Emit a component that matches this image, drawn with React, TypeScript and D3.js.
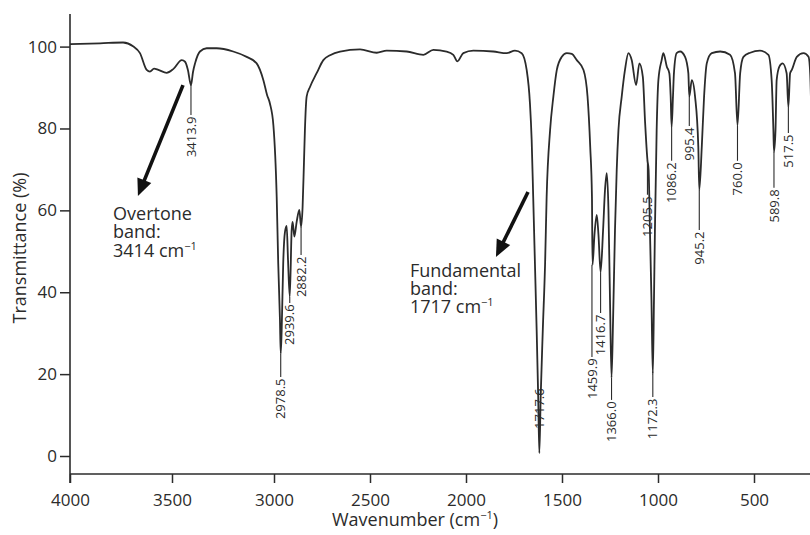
import * as d3 from "d3";
import { useEffect, useRef } from "react";

const chartWidth = 810;
const chartHeight = 535;
const fontFamily = "'Open Sans', 'Noto Sans', sans-serif";
const ink = "#2b2b2b";

// spectrum (wavenumber on the printed axis, % transmittance)
const wavenumber = [
  4000, 3853, 3740, 3691, 3657, 3624, 3608, 3588, 3567, 3526, 3494, 3452, 3436,
  3422, 3407, 3397, 3387, 3363, 3330, 3281, 3200, 3134, 3085, 3052, 3034, 3020,
  3003, 2986, 2978, 2969, 2965, 2960, 2952, 2943, 2934, 2927, 2918, 2908, 2903,
  2894, 2882, 2868, 2859, 2851, 2844, 2839, 2830, 2812, 2778, 2743, 2708, 2656,
  2552, 2465, 2413, 2309, 2222, 2170, 2101, 2066, 2045, 2014, 1962, 1858, 1788,
  1745, 1710, 1684, 1667, 1658, 1650, 1641, 1632, 1624, 1618, 1611, 1600, 1588,
  1580, 1562, 1545, 1527, 1501, 1475, 1449, 1423, 1388, 1367, 1353, 1344, 1341,
  1331, 1319, 1310, 1299, 1286, 1276, 1267, 1258, 1250, 1242, 1234, 1224, 1215,
  1206, 1189, 1172, 1154, 1137, 1114, 1097, 1079, 1067, 1055, 1049, 1042, 1034,
  1027, 1021, 1016, 1007, 998, 981, 972, 954, 941, 934, 929, 922, 917, 903, 885,
  859, 842, 837, 824, 807, 790, 785, 772, 760, 746, 720, 676, 625, 599, 586, 572,
  555, 520, 469, 425, 408, 399, 396, 388, 382, 368, 351, 330, 321, 312, 303, 277,
  242, 216, 207, 200,
];
const transmittance = [
  100.6, 100.8, 101.0, 100.1, 98.4, 94.3, 93.9, 94.6, 94.3, 93.6, 94.5, 96.7, 96.3,
  94.3, 90.6, 93.8, 95.9, 98.8, 99.6, 99.6, 98.8, 97.5, 95.9, 91.8, 88.2, 86.1,
  80.8, 63.3, 47.1, 33.2, 25.0, 30.8, 47.1, 54.7, 56.2, 47.9, 38.9, 55.2, 57.2,
  53.6, 57.2, 60.1, 56.0, 60.9, 71.6, 79.6, 87.8, 90.2, 93.5, 96.7, 97.9, 98.8,
  99.3, 98.5, 99.0, 98.8, 98.0, 99.2, 98.8, 98.0, 96.4, 98.4, 99.0, 98.8, 98.4,
  99.0, 98.4, 94.3, 86.2, 77.2, 63.3, 47.1, 30.8, 14.5, 0.7, 14.5, 30.8, 47.1,
  63.3, 79.6, 87.8, 94.3, 97.5, 98.4, 98.2, 96.7, 94.3, 87.8, 75.5, 63.3, 46.7,
  54.0, 58.9, 54.0, 44.9, 55.2, 65.0, 69.1, 60.1, 38.1, 19.1, 33.2, 55.2, 69.9,
  79.6, 87.8, 94.3, 98.4, 96.7, 90.6, 95.9, 92.6, 81.3, 72.3, 69.9, 55.2, 38.1,
  20.0, 38.1, 55.2, 79.6, 91.8, 96.7, 98.4, 95.1, 93.5, 87.8, 80.4, 87.8, 93.5, 98.4, 98.8,
  97.5, 93.5, 87.8, 91.8, 87.8, 75.5, 65.0, 75.5, 87.8, 95.9, 98.4, 98.8, 98.0, 93.5, 80.8, 93.5,
  97.5, 98.5, 99.0, 98.0, 91.8, 79.6, 74.3, 79.6, 91.8, 95.1, 95.9, 93.5, 85.3, 93.5, 94.3, 97.5,
  98.4, 97.5, 93.1, 80,
];

const xTicks = [4000, 3500, 3000, 2500, 2000, 1500, 1000, 500];
const yTicks = [0, 20, 40, 60, 80, 100];

// peak labels: text, where the leader sits, leader start and text top (% T)
const peakLabels = [
  "3413.9", "2978.5", "2939.6", "2882.2", "1717.6", "1459.9", "1416.7", "1366.0",
  "1205.5", "1172.3", "1086.2", "995.4", "945.2", "760.0", "589.8", "517.5",
];
const peakAt = [3407, 2965, 2918, 2859, 1618, 1344, 1299, 1242, 1055, 1027, 929, 837, 785, 586, 396, 321];
const peakMinT = [90.6, 25.0, 38.9, 56.0, 16.9, 46.7, 44.9, 19.1, 72.3, 20.0, 80.4, 87.8, 65.0, 80.8, 74.3, 85.3];
const labelTopT = [83.3, 19.3, 37.4, 49.1, 16.9, 24.2, 34.9, 13.7, 63.8, 14.4, 72.1, 80.6, 55.2, 72.1, 65.5, 78.9];

// band notes and their arrows
const noteLines = [
  ["Overtone", "band:", "3414 cm"],
  ["Fundamental", "band:", "1717 cm"],
];
const noteAt = [3789, 2292];
const noteBaselineT = [57.6, 43.8];
const arrowFrom = [
  [3446, 90.6],
  [1677, 64.5],
];
const arrowTo = [
  [3667, 63.5],
  [1844, 48.6],
];

function App() {
  const svgRef = useRef<SVGSVGElement | null>(null);

  useEffect(() => {
    const svg = d3.select(svgRef.current);
    svg.selectAll("*").remove();

    // the printed axis is not evenly spaced at the high end
    const xScale = d3.scaleLinear().domain([4000, 3000, 500]).range([70, 274, 754]);
    const yScale = d3.scaleLinear().domain([0, 100]).range([456, 46.6]);
    const xAxisY = 474;

    svg
      .append("defs")
      .append("clipPath")
      .attr("id", "plot-clip")
      .append("rect")
      .attr("x", 70)
      .attr("y", 0)
      .attr("width", chartWidth - 70)
      .attr("height", chartHeight);

    // axes
    const yAxis = svg
      .append("g")
      .attr("transform", "translate(70,0)")
      .call(
        d3
          .axisLeft(yScale)
          .tickValues(yTicks)
          .tickFormat(d3.format("d"))
          .tickSize(10)
          .tickPadding(3),
      );
    yAxis.select(".domain").remove();
    yAxis.selectAll("line").attr("stroke", ink).attr("stroke-width", 1.5);
    yAxis
      .selectAll("text")
      .attr("fill", ink)
      .style("font-family", fontFamily)
      .style("font-size", "17px");

    const xAxis = svg
      .append("g")
      .attr("transform", `translate(0,${xAxisY})`)
      .call(
        d3
          .axisBottom(xScale)
          .tickValues(xTicks)
          .tickFormat(d3.format("d"))
          .tickSize(9)
          .tickPadding(11),
      );
    xAxis.select(".domain").remove();
    xAxis.selectAll("line").attr("stroke", ink).attr("stroke-width", 1.5);
    xAxis
      .selectAll("text")
      .attr("fill", ink)
      .style("font-family", fontFamily)
      .style("font-size", "17px");

    svg
      .append("line")
      .attr("x1", 70)
      .attr("x2", 70)
      .attr("y1", 14)
      .attr("y2", 483)
      .attr("stroke", ink)
      .attr("stroke-width", 1.6);
    svg
      .append("line")
      .attr("x1", 70)
      .attr("x2", chartWidth)
      .attr("y1", xAxisY)
      .attr("y2", xAxisY)
      .attr("stroke", ink)
      .attr("stroke-width", 1.6);

    svg
      .append("text")
      .attr("transform", "translate(26,248) rotate(-90)")
      .attr("text-anchor", "middle")
      .attr("fill", ink)
      .style("font-family", fontFamily)
      .style("font-size", "18px")
      .text("Transmittance (%)");

    const xLabel = svg
      .append("text")
      .attr("x", 415)
      .attr("y", 526)
      .attr("text-anchor", "middle")
      .attr("fill", ink)
      .style("font-family", fontFamily)
      .style("font-size", "18px");
    xLabel.append("tspan").text("Wavenumber (cm");
    xLabel.append("tspan").attr("dy", -7).style("font-size", "11px").text("−1");
    xLabel.append("tspan").attr("dy", 7).text(")");

    // spectrum
    const points = wavenumber.map((w, i) => [w, transmittance[i]] as [number, number]);
    const line = d3
      .line<[number, number]>()
      .x((d) => xScale(d[0]))
      .y((d) => yScale(d[1]))
      .curve(d3.curveMonotoneX);

    svg
      .append("path")
      .datum(points)
      .attr("clip-path", "url(#plot-clip)")
      .attr("d", line)
      .attr("fill", "none")
      .attr("stroke", ink)
      .attr("stroke-width", 1.8)
      .attr("stroke-linejoin", "round");

    // peak leaders and labels
    const peaks = svg.append("g");
    peakLabels.forEach((label, i) => {
      const x = xScale(peakAt[i]);
      const y0 = yScale(peakMinT[i]);
      const y1 = yScale(labelTopT[i]);
      if (y1 - y0 > 1) {
        peaks
          .append("line")
          .attr("x1", x)
          .attr("x2", x)
          .attr("y1", y0)
          .attr("y2", y1)
          .attr("stroke", ink)
          .attr("stroke-width", 1.1);
      }
      peaks
        .append("text")
        .attr("transform", `translate(${x},${y1 + 1.5}) rotate(-90)`)
        .attr("text-anchor", "end")
        .attr("dy", "0.35em")
        .attr("fill", ink)
        .style("font-family", fontFamily)
        .style("font-size", "13px")
        .text(label);
    });

    // notes
    noteLines.forEach((lines, n) => {
      const text = svg
        .append("text")
        .attr("fill", ink)
        .style("font-family", fontFamily)
        .style("font-size", "18px");
      lines.forEach((content, k) => {
        text
          .append("tspan")
          .attr("x", xScale(noteAt[n]))
          .attr("y", yScale(noteBaselineT[n]) + k * 18.3)
          .text(content);
        if (k === lines.length - 1) {
          text
            .append("tspan")
            .attr("dy", -7)
            .style("font-size", "11px")
            .text("−1");
        }
      });
    });

    // arrows
    arrowFrom.forEach((from, i) => {
      const x0 = xScale(from[0]);
      const y0 = yScale(from[1]);
      const x1 = xScale(arrowTo[i][0]);
      const y1 = yScale(arrowTo[i][1]);
      const angle = Math.atan2(y1 - y0, x1 - x0);
      const headLength = 17;
      const headHalf = 7.5;
      const bx = x1 - headLength * Math.cos(angle);
      const by = y1 - headLength * Math.sin(angle);
      svg
        .append("line")
        .attr("x1", x0)
        .attr("y1", y0)
        .attr("x2", bx + 2 * Math.cos(angle))
        .attr("y2", by + 2 * Math.sin(angle))
        .attr("stroke", "#111")
        .attr("stroke-width", 3.6);
      const px = -Math.sin(angle);
      const py = Math.cos(angle);
      svg
        .append("path")
        .attr(
          "d",
          `M${x1},${y1}L${bx + headHalf * px},${by + headHalf * py}L${bx - headHalf * px},${by - headHalf * py}Z`,
        )
        .attr("fill", "#111");
    });
  }, []);

  return (
    <svg
      ref={svgRef}
      width={chartWidth}
      height={chartHeight}
      style={{ position: "absolute", left: 0, top: 0, background: "#fff" }}
    ></svg>
  );
}

export default App;
